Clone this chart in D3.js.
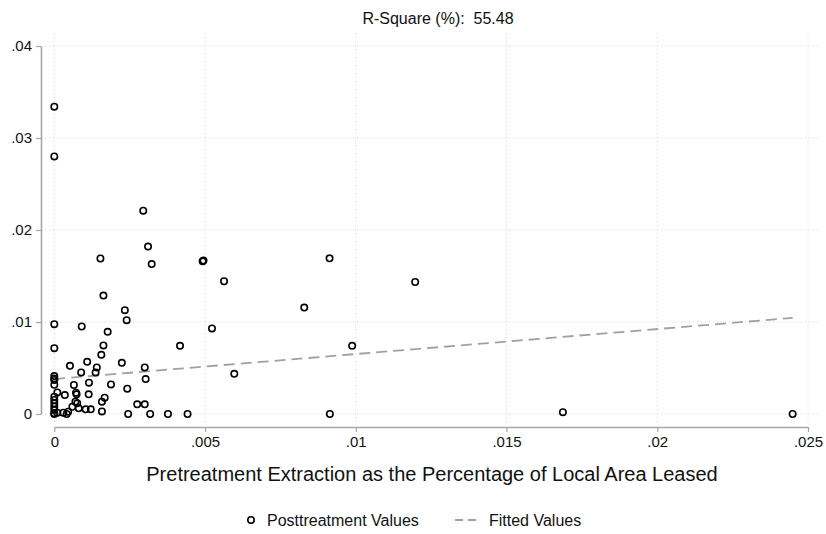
<!DOCTYPE html>
<html>
<head>
<meta charset="utf-8">
<script src="https://cdn.jsdelivr.net/npm/d3@7/dist/d3.min.js"></script>
<style>
  html, body { margin: 0; padding: 0; background: #fff; }
  svg { display: block; font-family: "Liberation Sans", Arial, Helvetica, sans-serif; }
</style>
</head>
<body>
<svg id="chart" width="826" height="534"></svg>
<script>
// ---- Data ----
const titleText = "R-Square (%):  55.48";
const xTitle = "Pretreatment Extraction as the Percentage of Local Area Leased";
const legendLabels = ["Posttreatment Values", "Fitted Values"];

const xTicks = [0, 0.005, 0.01, 0.015, 0.02, 0.025];
const xTickLabels = ["0", ".005", ".01", ".015", ".02", ".025"];
const yTicks = [0, 0.01, 0.02, 0.03, 0.04];
const yTickLabels = ["0", ".01", ".02", ".03", ".04"];

// Pretreatment extraction (x) and posttreatment values (y)
const pointX = [
  0, 0, 0.00295, 0.00311, 0.00323, 0.00153, 0.00492, 0.00495, 0.00563, 0.00913,
  0.01197, 0.00829, 0.00163, 0.00234, 0.0024, 0.00091, 0, 0.00523, 0.00177, 0.00417,
  0.00988, 0, 0.00163, 0.00156, 0.00597, 0.00224, 0.003, 0.00303, 0.00188, 0.00242,
  0.00167, 0.00158, 0.00275, 0.003, 0.00158, 0.00245, 0.00318, 0.00377, 0.00442, 0.00052,
  0.00109, 0.00141, 0.00089, 0.00137, 0, 0, 0, 0.00065, 0.00115, 0.0001,
  0.00035, 0.00072, 0.00074, 0.00114, 0.0007, 0.00076, 0.0006, 0.00081, 0.00104, 0.00121,
  0.00046, 0.0003, 0.0001, 0.00041, 0, 0, 0, 0, 0, 0,
  0, 0, 0.00914, 0.01687, 0.02449
];
const pointY = [
  0.0334, 0.0280, 0.0221, 0.0182, 0.0163, 0.0169, 0.0166, 0.01668, 0.01443, 0.01692,
  0.01435, 0.01157, 0.01287, 0.01128, 0.0102, 0.00951, 0.00976, 0.0093, 0.00893, 0.00741,
  0.00741, 0.00716, 0.00745, 0.00643, 0.00437, 0.00556, 0.00506, 0.0038, 0.00322, 0.00275,
  0.00177, 0.00134, 0.00105, 0.00105, 0.00028, 0, 0, 0, 0, 0.00524,
  0.00567, 0.00506, 0.00452, 0.00452, 0.00412, 0.00387, 0.0037, 0.00315, 0.0034, 0.00235,
  0.00206, 0.00231, 0.00214, 0.00214, 0.00134, 0.00116, 0.00079, 0.00062, 0.00051, 0.00051,
  0.00025, 0.00014, 0.00014, 0, 0.00318, 0.00188, 0.00152, 0.00116, 0.00079, 0.00043,
  0.00008, 0, 0, 0.0002, 0
];

// Fitted line endpoints
const fittedX = [0, 0.02449];
const fittedY = [0.0038, 0.01045];

// ---- Drawing ----
const svg = d3.select("#chart");

const x = d3.scaleLinear().domain([0, 0.025]).range([54.3, 808]);
const y = d3.scaleLinear().domain([0, 0.04]).range([414, 46]);

const plotTop = 33, plotBottom = 423, plotLeft = 45, plotRight = 818;
const gridColor = "#d0d0d0";
const axisColor = "#a6a6a6";
const fontFam = "'Liberation Sans', Arial, Helvetica, sans-serif";

// grid lines
const grid = svg.append("g");
grid.selectAll("line.vg").data(xTicks).enter().append("line")
  .attr("x1", d => x(d)).attr("x2", d => x(d))
  .attr("y1", plotTop).attr("y2", plotBottom)
  .attr("stroke", gridColor).attr("stroke-width", 1)
  .attr("stroke-dasharray", "1,3");
grid.selectAll("line.hg").data(yTicks).enter().append("line")
  .attr("y1", d => y(d)).attr("y2", d => y(d))
  .attr("x1", plotLeft).attr("x2", plotRight)
  .attr("stroke", gridColor).attr("stroke-width", 1)
  .attr("stroke-dasharray", "1,3");

// axes
const yAxis = d3.axisLeft(y).tickValues(yTicks)
  .tickFormat((d, i) => yTickLabels[i]).tickSize(5).tickSizeOuter(0).tickPadding(4);
const gy = svg.append("g").attr("transform", "translate(41,0)").call(yAxis);

const xAxis = d3.axisBottom(x).tickValues(xTicks)
  .tickFormat((d, i) => xTickLabels[i]).tickSize(5).tickSizeOuter(0).tickPadding(4);
const gx = svg.append("g").attr("transform", "translate(0,427)").call(xAxis);

[gx, gy].forEach(g => {
  g.select(".domain").attr("stroke", axisColor).attr("stroke-width", 1.6);
  g.selectAll(".tick line").attr("stroke", axisColor).attr("stroke-width", 1.2);
  g.selectAll(".tick text").attr("fill", "#111").style("font-size", "15px")
    .style("font-family", fontFam);
});

// fitted line
const fitData = fittedX.map((v, i) => [v, fittedY[i]]);
svg.append("path")
  .datum(fitData)
  .attr("d", d3.line().x(d => x(d[0])).y(d => y(d[1])))
  .attr("fill", "none")
  .attr("stroke", "#a0a0a0")
  .attr("stroke-width", 1.8)
  .attr("stroke-dasharray", "11,6");

// points
const pts = pointX.map((v, i) => [v, pointY[i]]);
svg.append("g").selectAll("circle").data(pts).enter().append("circle")
  .attr("cx", d => x(d[0])).attr("cy", d => y(d[1]))
  .attr("r", 3.2)
  .attr("fill", "none")
  .attr("stroke", "#000")
  .attr("stroke-width", 1.6);

// title
svg.append("text")
  .attr("x", 438).attr("y", 24)
  .attr("text-anchor", "middle")
  .style("font-size", "16px").attr("fill", "#111")
  .attr("xml:space", "preserve")
  .style("white-space", "pre")
  .text(titleText);

// x axis title
svg.append("text")
  .attr("x", 432).attr("y", 481)
  .attr("text-anchor", "middle")
  .style("font-size", "20px").attr("fill", "#111")
  .text(xTitle);

// legend
const leg = svg.append("g");
leg.append("circle").attr("cx", 251).attr("cy", 520).attr("r", 3.2)
  .attr("fill", "none").attr("stroke", "#000").attr("stroke-width", 1.6);
leg.append("text").attr("x", 267).attr("y", 525.5)
  .style("font-size", "16px").attr("fill", "#111").text(legendLabels[0]);
leg.append("line").attr("x1", 455).attr("x2", 478).attr("y1", 520).attr("y2", 520)
  .attr("stroke", "#a0a0a0").attr("stroke-width", 1.8).attr("stroke-dasharray", "8,5");
leg.append("text").attr("x", 489).attr("y", 525.5)
  .style("font-size", "16px").attr("fill", "#111").text(legendLabels[1]);
</script>
</body>
</html>
